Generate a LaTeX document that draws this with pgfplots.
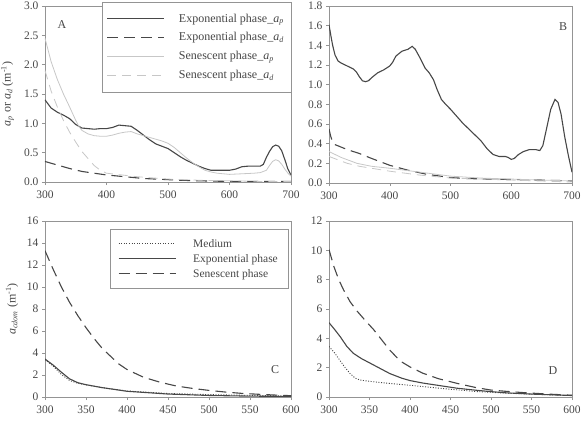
\documentclass[border=0pt]{standalone}
\usepackage{fontspec}
\setmainfont{Liberation Serif}
\usepackage{pgfplots}
\pgfplotsset{compat=1.18}

\definecolor{txt}{gray}{0.28}
\definecolor{frame}{gray}{0.58}
\definecolor{darkln}{gray}{0.28}
\definecolor{lightln}{gray}{0.78}

\pgfplotsset{
  panel/.style={
    scale only axis,
    anchor=south west,
    axis line style={frame, line width=0.6pt},
    tick style={frame, line width=0.5pt},
    tick align=outside,
    major tick length=3pt,
    xtick pos=bottom, ytick pos=left,
    font=\fontsize{11.5}{13}\selectfont,
    every tick label/.append style={text=txt},
    /pgf/number format/assume math mode=true,
    scaled ticks=false,
    xticklabel style={yshift=-2pt},
  },
  darksolid/.style={darkln, line width=1.1pt},
  darkdash/.style={darkln, line width=1.1pt, dash pattern=on 11pt off 6pt},
  lightsolid/.style={lightln, line width=0.8pt},
  lightdash/.style={lightln, line width=0.8pt, dash pattern=on 9pt off 6pt},
  dotline/.style={darkln, line width=0.9pt, dash pattern=on 1pt off 1.6pt},
  legstyle/.style={
    legend cell align=left,
    legend image code/.code={\draw[##1] (0pt,0pt) -- (57pt,0pt);},
    legend style={draw=frame, fill=white, text=txt,
      font=\fontsize{12}{14}\selectfont,
      inner xsep=5pt, inner ysep=10pt, row sep=5pt,
      /tikz/every odd column/.append style={column sep=12pt}},
  },
}

\begin{document}
\begin{tikzpicture}
\useasboundingbox (0,0) rectangle (585pt,429pt);

% ---------------- Panel A ----------------
\begin{axis}[panel, legstyle,
  at={(45pt,247pt)}, width=246pt, height=176pt,
  xmin=300, xmax=700, ymin=0, ymax=3,
  xtick={300,400,...,700}, ytick={0,0.5,...,3},
  yticklabel style={/pgf/number format/.cd, fixed, fixed zerofill, precision=1},
  legend style={at={(1,1.025)}, anchor=north east},
  ylabel={\textit{a}\textsubscript{\textit{p}} or \textit{a}\textsubscript{\textit{d}} (m\textsuperscript{-1})},
  every axis y label/.style={at={(rel axis cs:-0.152,0.5)}, rotate=90, anchor=center, text=txt, font=\fontsize{12}{14}\selectfont},
]
\addplot[darksolid] coordinates {
(300,1.40)(305,1.33)(310,1.26)(320,1.19)(330,1.14)(340,1.08)(350,0.98)(360,0.92)
(370,0.91)(380,0.90)(390,0.91)(400,0.91)(410,0.93)(420,0.97)(430,0.96)(440,0.95)
(450,0.88)(460,0.80)(470,0.72)(480,0.65)(490,0.61)(500,0.57)(510,0.50)(520,0.43)
(530,0.37)(540,0.32)(550,0.27)(560,0.23)(570,0.20)(580,0.20)(590,0.20)(600,0.20)
(610,0.22)(620,0.26)(630,0.27)(640,0.27)(650,0.27)(655,0.30)(660,0.42)(665,0.52)
(670,0.60)(675,0.63)(680,0.61)(685,0.53)(690,0.38)(695,0.22)(700,0.12)};
\addlegendentry{Exponential phase\_\textit{a}\textsubscript{\textit{p}}}
\addplot[darkdash] coordinates {
(300,0.35)(320,0.29)(340,0.23)(360,0.18)(380,0.15)(400,0.12)(420,0.10)(440,0.08)
(460,0.06)(480,0.05)(500,0.04)(520,0.03)(550,0.02)(600,0.01)(650,0.01)(700,0.01)};
\addlegendentry{Exponential phase\_\textit{a}\textsubscript{\textit{d}}}
\addplot[lightsolid] coordinates {
(300,2.45)(305,2.25)(310,2.05)(320,1.75)(330,1.50)(340,1.28)(350,1.05)(355,0.95)
(360,0.88)(370,0.82)(380,0.79)(390,0.78)(400,0.78)(410,0.80)(420,0.83)(430,0.85)
(440,0.86)(450,0.82)(460,0.79)(470,0.76)(480,0.73)(490,0.70)(500,0.66)(510,0.59)
(520,0.50)(530,0.41)(540,0.33)(550,0.26)(560,0.20)(570,0.17)(580,0.15)(600,0.13)
(620,0.14)(640,0.15)(650,0.16)(660,0.20)(665,0.28)(670,0.35)(675,0.38)(680,0.36)
(685,0.30)(690,0.22)(695,0.15)(700,0.10)};
\addlegendentry{Senescent phase\_\textit{a}\textsubscript{\textit{p}}}
\addplot[lightdash] coordinates {
(300,1.90)(310,1.55)(320,1.28)(330,1.05)(340,0.85)(350,0.68)(360,0.52)(370,0.40)
(380,0.28)(390,0.20)(400,0.15)(450,0.09)(500,0.05)(550,0.03)(600,0.02)(650,0.01)(700,0.01)};
\addlegendentry{Senescent phase\_\textit{a}\textsubscript{\textit{d}}}
\node[text=txt, font=\fontsize{12}{14}\selectfont] at (rel axis cs:0.069,0.892) {A};
\end{axis}

% ---------------- Panel B ----------------
\begin{axis}[panel,
  at={(329pt,246pt)}, width=243pt, height=177pt,
  xmin=300, xmax=700, ymin=0, ymax=1.8,
  xtick={300,400,...,700}, ytick={0,0.2,...,1.8},
  yticklabel style={/pgf/number format/.cd, fixed, fixed zerofill, precision=1},
]
\addplot[darksolid] coordinates {
(300,1.61)(303,1.50)(306,1.40)(310,1.30)(315,1.24)(320,1.22)(330,1.19)(340,1.16)
(345,1.13)(350,1.08)(355,1.04)(360,1.03)(365,1.04)(370,1.07)(380,1.12)(390,1.15)
(400,1.19)(405,1.23)(410,1.29)(420,1.34)(430,1.36)(437,1.39)(442,1.36)(450,1.27)
(458,1.17)(465,1.12)(472,1.05)(478,0.95)(485,0.85)(492,0.80)(500,0.75)(510,0.68)
(520,0.61)(530,0.55)(540,0.49)(550,0.43)(560,0.35)(570,0.29)(580,0.27)(590,0.27)
(595,0.26)(600,0.24)(605,0.25)(612,0.29)(620,0.32)(630,0.34)(640,0.34)(647,0.33)
(652,0.38)(658,0.55)(665,0.75)(672,0.85)(677,0.82)(682,0.70)(688,0.47)(694,0.28)(700,0.11)};
\addplot[darkdash] coordinates {
(300,0.55)(303,0.47)(306,0.42)(310,0.39)(330,0.34)(350,0.30)(370,0.25)(400,0.18)
(430,0.13)(460,0.09)(500,0.055)(530,0.045)(560,0.04)(600,0.035)(650,0.03)(680,0.025)(700,0.02)};
\addplot[lightsolid] coordinates {
(300,0.32)(320,0.26)(346,0.20)(370,0.17)(400,0.15)(450,0.11)(500,0.07)(550,0.05)
(600,0.04)(650,0.03)(700,0.02)};
\addplot[lightdash] coordinates {
(300,0.27)(330,0.20)(350,0.17)(400,0.12)(450,0.08)(500,0.05)(600,0.03)(700,0.01)};
\node[text=txt, font=\fontsize{12}{14}\selectfont] at (rel axis cs:0.963,0.881) {B};
\end{axis}

% ---------------- Panel C ----------------
\begin{axis}[panel, legstyle,
  at={(45pt,32pt)}, width=246pt, height=176pt,
  xmin=300, xmax=600, ymin=0, ymax=16,
  xtick={300,350,...,600}, ytick={0,2,...,16},
  legend style={at={(0.988,0.955)}, anchor=north east, row sep=1.5pt,
    inner xsep=8pt, inner ysep=8pt, font=\fontsize{11.5}{13}\selectfont,
    /tikz/every odd column/.append style={column sep=15pt}},
  ylabel={\textit{a}\textsubscript{\textit{cdom}} (m\textsuperscript{-1})},
  every axis y label/.style={at={(rel axis cs:-0.134,0.5)}, rotate=90, anchor=center, text=txt, font=\fontsize{12}{14}\selectfont},
]
\addplot[dotline] coordinates {
(300,3.40)(310,2.80)(320,2.05)(330,1.50)(340,1.25)(350,1.10)(370,0.85)(400,0.55)
(450,0.32)(500,0.22)(550,0.15)(600,0.10)};
\addlegendentry{Medium}
\addplot[darksolid] coordinates {
(300,3.45)(310,2.90)(320,2.25)(330,1.65)(340,1.30)(350,1.12)(370,0.85)(400,0.52)
(450,0.27)(500,0.14)(550,0.08)(600,0.05)};
\addlegendentry{Exponential phase}
\addplot[darkdash] coordinates {
(300,13.3)(310,11.6)(320,10.0)(330,8.6)(340,7.4)(350,6.3)(360,5.3)(370,4.4)(380,3.7)
(390,3.0)(400,2.5)(420,1.8)(440,1.35)(460,1.0)(480,0.78)(500,0.6)(520,0.45)(540,0.33)
(560,0.25)(580,0.18)(600,0.12)};
\addlegendentry{Senescent phase}
\node[text=txt, font=\fontsize{12}{14}\selectfont] at (rel axis cs:0.935,0.153) {C};
\end{axis}

% ---------------- Panel D ----------------
\begin{axis}[panel,
  at={(329pt,32pt)}, width=243pt, height=176pt,
  xmin=300, xmax=600, ymin=0, ymax=12,
  xtick={300,350,...,600}, ytick={0,2,...,12},
]
\addplot[dotline] coordinates {
(300,3.45)(307,3.00)(314,2.45)(320,2.00)(326,1.60)(332,1.30)(338,1.16)(350,1.07)
(370,0.95)(400,0.80)(440,0.58)(480,0.38)(520,0.26)(560,0.17)(600,0.10)};
\addplot[darksolid] coordinates {
(300,5.07)(307,4.60)(314,4.10)(322,3.45)(330,2.98)(340,2.62)(351,2.30)(363,1.95)
(375,1.60)(390,1.28)(400,1.12)(416,0.95)(440,0.75)(458,0.60)(480,0.47)(499,0.37)
(520,0.28)(550,0.20)(580,0.14)(600,0.10)};
\addplot[darkdash] coordinates {
(300,10.05)(306,8.90)(312,8.00)(318,7.30)(326,6.50)(334,5.90)(345,5.20)(355,4.60)
(365,3.90)(375,3.20)(388,2.45)(400,2.05)(416,1.62)(435,1.25)(458,0.93)(480,0.66)
(499,0.48)(520,0.38)(540,0.30)(570,0.20)(600,0.12)};
\node[text=txt, font=\fontsize{12}{14}\selectfont] at (rel axis cs:0.922,0.148) {D};
\end{axis}
\end{tikzpicture}
\end{document}
